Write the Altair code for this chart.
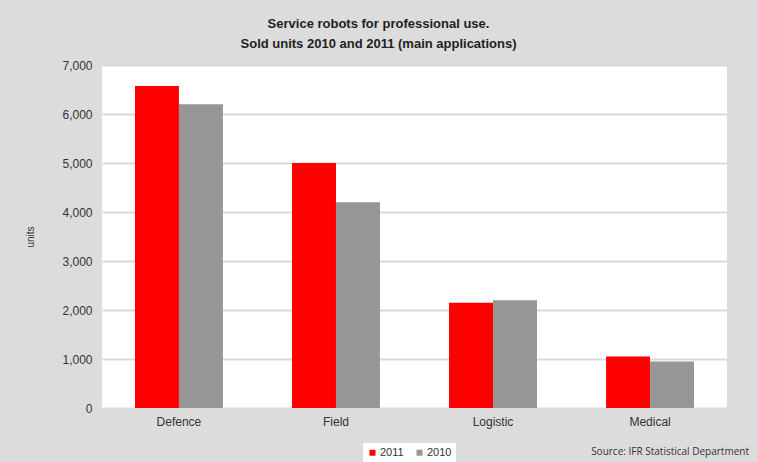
import altair as alt
import pandas as pd

categories = ["Defence", "Field", "Logistic", "Medical"]
series = ["2011", "2010"]
values_2011 = [6570, 5000, 2150, 1050]
values_2010 = [6200, 4200, 2200, 950]
source_text = "Source: IFR Statistical Department"

rows = []
for c, v in zip(categories, values_2011):
    rows.append({"category": c, "year": "2011", "units": v})
for c, v in zip(categories, values_2010):
    rows.append({"category": c, "year": "2010", "units": v})
df = pd.DataFrame(rows)

FONT = "Liberation Sans"

bars = alt.Chart(df).mark_bar().encode(
    x=alt.X("category:N", sort=categories, title=None,
            scale=alt.Scale(paddingInner=0.44, paddingOuter=0.21),
            axis=alt.Axis(labelAngle=0, ticks=False, domain=False, labelPadding=8,
                          labelFontSize=12, labelColor="#333333", labelFont=FONT)),
    xOffset=alt.XOffset("year:N", sort=series, scale=alt.Scale(paddingInner=0, paddingOuter=0)),
    y=alt.Y("units:Q", title="units", scale=alt.Scale(domain=[0, 7000], nice=False),
            axis=alt.Axis(values=[0, 1000, 2000, 3000, 4000, 5000, 6000, 7000], format=",.0f",
                          ticks=False, domain=False, labelPadding=10, labelFontSize=12,
                          labelColor="#333333", labelFont=FONT, gridColor="#d9d9d9",
                          gridWidth=2, titleFontSize=10, titleFontWeight="normal",
                          titleColor="#333333", titleFont=FONT, titlePadding=26)),
    color=alt.Color("year:N", sort=series,
                    scale=alt.Scale(domain=series, range=["#ff0000", "#969696"]),
                    legend=alt.Legend(title=None, orient="none", direction="horizontal",
                                      legendX=261, legendY=378, symbolType="square",
                                      symbolSize=36, labelFontSize=11, labelFont=FONT,
                                      labelColor="#333333", fillColor="white",
                                      padding=4, columnPadding=10, labelOffset=2,
                                      symbolStrokeWidth=0)),
)

src = alt.Chart(pd.DataFrame({"t": [source_text]})).mark_text(
    align="right", baseline="middle", fontSize=10, font="Open Sans", color="#333333"
).encode(text="t:N", x=alt.value(647), y=alt.value(387))

chart = alt.layer(bars, src).properties(
    width=625, height=343,
    autosize=alt.AutoSizeParams(type="none"),
    padding={"left": 102, "top": 65, "right": 30, "bottom": 54},
    background="#dcdcdc",
    title=alt.Title(["Service robots for professional use.",
                     "Sold units 2010 and 2011 (main applications)"],
                    anchor="middle", dx=-36, offset=8, fontSize=13, fontWeight="bold",
                    font=FONT, color="#222222", lineHeight=20),
).configure_view(fill="white", stroke=None)

chart.save("out.html", embed_options={"renderer": "svg", "actions": False})
